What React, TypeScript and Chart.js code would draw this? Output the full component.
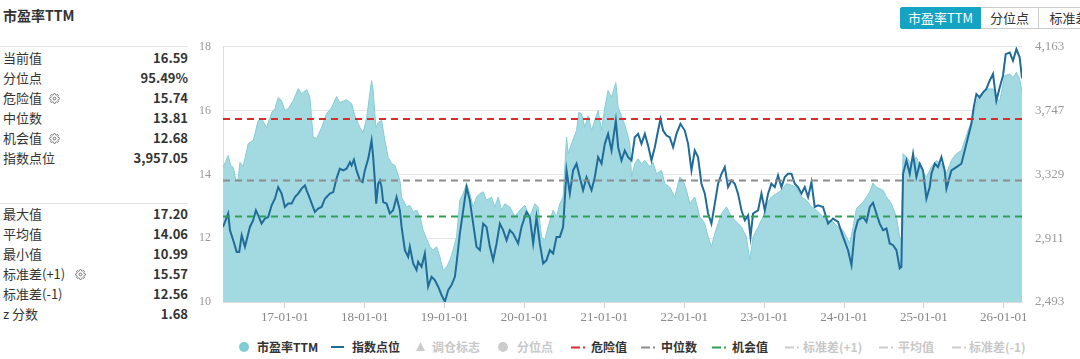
import React, { useEffect, useRef } from "react";
import { Chart, registerables } from "chart.js";

Chart.register(...registerables);

// ---------- data ----------
const peYears = [
  2016.225, 2016.29, 2016.32, 2016.353, 2016.387, 2016.416, 2016.437, 2016.478, 2016.541, 2016.603,
  2016.666, 2016.708, 2016.771, 2016.834, 2016.875, 2016.916, 2016.959, 2017.0, 2017.041, 2017.104,
  2017.166, 2017.209, 2017.272, 2017.313, 2017.354, 2017.397, 2017.459, 2017.522, 2017.584, 2017.647,
  2017.688, 2017.772, 2017.835, 2017.876, 2017.939, 2017.98, 2018.023, 2018.085, 2018.105, 2018.139,
  2018.168, 2018.21, 2018.252, 2018.293, 2018.335, 2018.377, 2018.398, 2018.439, 2018.461, 2018.523,
  2018.564, 2018.606, 2018.648, 2018.69, 2018.731, 2018.773, 2018.815, 2018.856, 2018.899, 2018.94,
  2018.981, 2019.024, 2019.065, 2019.106, 2019.149, 2019.19, 2019.232, 2019.274, 2019.315, 2019.357,
  2019.399, 2019.441, 2019.482, 2019.524, 2019.587, 2019.628, 2019.67, 2019.712, 2019.753, 2019.816,
  2019.879, 2019.941, 2020.004, 2020.066, 2020.129, 2020.17, 2020.213, 2020.254, 2020.317, 2020.358,
  2020.401, 2020.442, 2020.483, 2020.526, 2020.546, 2020.588, 2020.651, 2020.68, 2020.713, 2020.755,
  2020.796, 2020.839, 2020.88, 2020.921, 2020.964, 2021.005, 2021.046, 2021.089, 2021.143, 2021.172,
  2021.214, 2021.277, 2021.318, 2021.339, 2021.38, 2021.422, 2021.464, 2021.506, 2021.568, 2021.609,
  2021.652, 2021.715, 2021.756, 2021.818, 2021.881, 2021.944, 2021.985, 2022.028, 2022.069, 2022.131,
  2022.194, 2022.257, 2022.298, 2022.34, 2022.382, 2022.423, 2022.466, 2022.528, 2022.591, 2022.653,
  2022.716, 2022.778, 2022.82, 2022.861, 2022.924, 2022.986, 2023.029, 2023.091, 2023.154, 2023.216,
  2023.279, 2023.342, 2023.404, 2023.467, 2023.529, 2023.592, 2023.655, 2023.737, 2023.8, 2023.862,
  2023.925, 2023.988, 2024.03, 2024.071, 2024.113, 2024.155, 2024.238, 2024.322, 2024.363, 2024.405,
  2024.488, 2024.531, 2024.593, 2024.656, 2024.697, 2024.718, 2024.739, 2024.781, 2024.844, 2024.906,
  2024.969, 2025.031, 2025.094, 2025.156, 2025.219, 2025.282, 2025.344, 2025.407, 2025.469, 2025.511,
  2025.552, 2025.594, 2025.636, 2025.677, 2025.74, 2025.802, 2025.865, 2025.907, 2025.949, 2026.011,
  2026.074, 2026.115, 2026.158, 2026.199, 2026.228,
];

const peValues = [
  14.22, 14.59, 14.28, 14.22, 13.81, 13.88, 14.38, 14.25, 14.97, 15.06,
  15.69, 15.75, 15.47, 15.94, 16.06, 16.41, 16.31, 16.0, 16.06, 16.31,
  16.69, 16.53, 16.66, 16.41, 15.16, 15.13, 15.47, 15.91, 16.09, 16.44,
  16.25, 16.34, 16.22, 15.84, 15.47, 15.31, 15.78, 16.94, 16.63, 15.47,
  15.63, 15.69, 15.06, 14.53, 14.34, 14.28, 14.13, 13.81, 13.29, 12.98,
  13.03, 12.82, 12.88, 12.67, 12.25, 11.99, 11.73, 11.63, 11.73, 11.42,
  10.99, 11.1, 11.31, 11.63, 12.04, 13.19, 13.4, 13.71, 13.4, 12.98,
  13.29, 13.4, 13.45, 13.19, 13.29, 12.98, 13.29, 12.88, 13.08, 12.98,
  12.67, 12.88, 13.03, 12.67, 13.08, 12.98, 12.04, 11.94, 12.56, 12.88,
  12.67, 13.08, 13.29, 15.17, 14.65, 14.96, 15.38, 15.95, 15.9, 15.48,
  15.84, 15.38, 15.69, 16.0, 15.38, 16.1, 16.63, 16.42, 16.88, 16.1,
  15.84, 15.38, 14.96, 13.92, 14.33, 14.49, 14.33, 14.44, 14.23, 14.38,
  14.02, 14.13, 13.71, 13.6, 13.29, 13.92, 13.81, 13.5, 13.08, 13.29,
  12.67, 12.46, 12.04, 11.73, 12.15, 12.46, 12.77, 12.98, 12.67, 12.51,
  12.35, 12.04, 11.31, 12.04, 12.35, 12.67, 13.08, 13.29, 13.4, 13.5,
  13.71, 13.66, 13.6, 13.29, 13.19, 12.98, 12.88, 12.67, 12.56, 12.51,
  12.35, 12.25, 12.04, 11.83, 12.35, 12.93, 13.13, 13.45, 13.73, 13.6,
  13.5, 13.29, 13.08, 12.67, 12.04, 11.94, 14.65, 14.54, 14.33, 14.54,
  14.13, 13.92, 14.23, 14.44, 14.33, 14.02, 14.44, 14.65, 14.75, 15.06,
  15.38, 15.63, 16.05, 16.42, 16.57, 16.68, 16.68, 16.37, 16.31, 17.09,
  17.15, 17.04, 17.2, 16.99, 16.59,
];

const idxYears = [
  2016.225, 2016.29, 2016.312, 2016.353, 2016.396, 2016.428, 2016.459, 2016.5, 2016.562, 2016.603,
  2016.637, 2016.666, 2016.708, 2016.75, 2016.791, 2016.834, 2016.875, 2016.916, 2016.959, 2017.0,
  2017.041, 2017.084, 2017.125, 2017.166, 2017.209, 2017.25, 2017.272, 2017.313, 2017.375, 2017.417,
  2017.459, 2017.501, 2017.563, 2017.605, 2017.647, 2017.688, 2017.73, 2017.772, 2017.814, 2017.835,
  2017.864, 2017.897, 2017.939, 2017.972, 2018.001, 2018.043, 2018.085, 2018.105, 2018.126, 2018.143,
  2018.168, 2018.189, 2018.21, 2018.23, 2018.273, 2018.314, 2018.355, 2018.398, 2018.439, 2018.461,
  2018.502, 2018.543, 2018.564, 2018.606, 2018.648, 2018.668, 2018.711, 2018.752, 2018.793, 2018.836,
  2018.877, 2018.919, 2018.961, 2019.003, 2019.044, 2019.086, 2019.128, 2019.149, 2019.19, 2019.232,
  2019.274, 2019.315, 2019.357, 2019.399, 2019.441, 2019.482, 2019.524, 2019.566, 2019.607, 2019.65,
  2019.691, 2019.732, 2019.775, 2019.816, 2019.857, 2019.92, 2019.962, 2020.025, 2020.066, 2020.108,
  2020.15, 2020.191, 2020.233, 2020.275, 2020.317, 2020.358, 2020.401, 2020.442, 2020.483, 2020.526,
  2020.567, 2020.608, 2020.651, 2020.692, 2020.733, 2020.776, 2020.839, 2020.88, 2020.921, 2020.964,
  2021.005, 2021.046, 2021.089, 2021.143, 2021.172, 2021.214, 2021.255, 2021.297, 2021.339, 2021.38,
  2021.422, 2021.464, 2021.506, 2021.547, 2021.589, 2021.631, 2021.672, 2021.702, 2021.735, 2021.777,
  2021.818, 2021.86, 2021.902, 2021.952, 2022.006, 2022.048, 2022.09, 2022.131, 2022.172, 2022.215,
  2022.257, 2022.298, 2022.34, 2022.382, 2022.423, 2022.466, 2022.507, 2022.548, 2022.591, 2022.632,
  2022.673, 2022.716, 2022.757, 2022.799, 2022.829, 2022.861, 2022.924, 2022.966, 2023.008, 2023.049,
  2023.091, 2023.133, 2023.174, 2023.216, 2023.258, 2023.299, 2023.342, 2023.383, 2023.424, 2023.467,
  2023.508, 2023.55, 2023.592, 2023.633, 2023.675, 2023.737, 2023.8, 2023.862, 2023.925, 2023.988,
  2024.05, 2024.093, 2024.134, 2024.175, 2024.238, 2024.281, 2024.322, 2024.363, 2024.405, 2024.447,
  2024.488, 2024.531, 2024.572, 2024.614, 2024.656, 2024.697, 2024.718, 2024.739, 2024.781, 2024.823,
  2024.864, 2024.906, 2024.948, 2024.989, 2025.031, 2025.073, 2025.094, 2025.136, 2025.177, 2025.219,
  2025.26, 2025.282, 2025.344, 2025.407, 2025.469, 2025.511, 2025.552, 2025.594, 2025.623, 2025.657,
  2025.698, 2025.74, 2025.782, 2025.823, 2025.865, 2025.907, 2025.949, 2025.99, 2026.024, 2026.074,
  2026.115, 2026.158, 2026.199, 2026.228,
];

const idxValues = [
  2984, 3072, 2963, 2897, 2821, 2821, 2930, 2854, 2984, 3028,
  3093, 3060, 3006, 3039, 3049, 3126, 3169, 3245, 3202, 3115,
  3137, 3137, 3180, 3202, 3235, 3256, 3224, 3169, 3082, 3104,
  3115, 3169, 3202, 3212, 3302, 3365, 3354, 3365, 3408, 3387,
  3424, 3354, 3289, 3278, 3354, 3430, 3550, 3441, 3289, 3137,
  3267, 3289, 3245, 3147, 3137, 3072, 3093, 3180, 3093, 2984,
  2832, 2789, 2854, 2745, 2702, 2756, 2723, 2811, 2593, 2658,
  2637, 2593, 2539, 2495, 2571, 2604, 2658, 2745, 2941, 3093,
  3245, 3158, 3006, 2854, 2832, 3006, 2984, 2854, 2767, 2876,
  3006, 2963, 2897, 2963, 2941, 2876, 2984, 3082, 3049, 2876,
  3049, 2876, 2745, 2767, 2832, 2811, 2919, 2919, 2984, 3354,
  3202, 3354, 3398, 3310, 3224, 3310, 3224, 3310, 3441, 3398,
  3528, 3593, 3484, 3680, 3506, 3419, 3484, 3441, 3419, 3571,
  3593, 3528, 3593, 3517, 3419, 3506, 3615, 3691, 3615, 3582,
  3571, 3506, 3593, 3659, 3615, 3528, 3354, 3484, 3441, 3267,
  3202, 3072, 3006, 3137, 3267, 3332, 3376, 3245, 3289, 3267,
  3202, 3093, 3028, 3060, 2919, 3072, 3093, 3202, 3093, 3202,
  3267, 3245, 3321, 3245, 3310, 3332, 3332, 3267, 3245, 3202,
  3245, 3180, 3278, 3115, 3126, 3115, 3006, 3039, 3017, 2919,
  2832, 2734, 2952, 3028, 3049, 3017, 3115, 3142, 3072, 3006,
  2963, 2974, 2876, 2865, 2832, 2713, 2723, 3332, 3419, 3332,
  3463, 3310, 3398, 3354, 3169, 3245, 3332, 3398, 3376, 3441,
  3354, 3235, 3354, 3376, 3398, 3484, 3571, 3659, 3767, 3854,
  3832, 3865, 3887, 3941, 3985, 3811, 3897, 3974, 4115, 4126,
  4072, 4148, 4093, 3957.05,
];

const dangerValue = 15.74;
const medianValue = 13.81;
const opportunityValue = 12.68;

const xTickYears = [2017, 2018, 2019, 2020, 2021, 2022, 2023, 2024, 2025, 2026];
const leftMin = 10;
const leftMax = 18;
const leftStep = 2;
const rightTickLabels = [2493, 2911, 3329, 3747, 4163];

const statsTop: [string, string, boolean][] = [
  ["当前值", "16.59", false],
  ["分位点", "95.49%", false],
  ["危险值", "15.74", true],
  ["中位数", "13.81", false],
  ["机会值", "12.68", true],
  ["指数点位", "3,957.05", false],
];
const statsBottom: [string, string, boolean][] = [
  ["最大值", "17.20", false],
  ["平均值", "14.06", false],
  ["最小值", "10.99", false],
  ["标准差(+1)", "15.57", true],
  ["标准差(-1)", "12.56", false],
  ["z 分数", "1.68", false],
];

// ---------- styles ----------
const CJK = "'Noto Sans CJK SC', 'Noto Sans', sans-serif";
const AXIS_FONT = "'Liberation Serif', 'DejaVu Serif', serif";
const C_AREA_FILL = "#a3d9e1";
const C_AREA_LINE = "#86ccd7";
const C_INDEX = "#1f6c9a";
const C_DANGER = "#d42f2a";
const C_MEDIAN = "#8c8c8c";
const C_OPP = "#2e9e58";

const Gear = ({ left }: { left: number }) => (
  <svg
    width={11}
    height={11}
    viewBox="0 0 24 24"
    style={{ position: "absolute", left, top: 5 }}
    fill="none"
    stroke="#666"
    strokeWidth={2}
  >
    <circle cx="12" cy="12" r="3" />
    <path d="M19.4 15a1.65 1.65 0 0 0 .33 1.82l.06.06a2 2 0 0 1 0 2.83 2 2 0 0 1-2.83 0l-.06-.06a1.65 1.65 0 0 0-1.820-.33 1.65 1.65 0 0 0-1 1.51V21a2 2 0 0 1-2 2 2 2 0 0 1-2-2v-.09A1.65 1.65 0 0 0 9 19.4a1.65 1.65 0 0 0-1.82.33l-.06.06a2 2 0 0 1-2.83 0 2 2 0 0 1 0-2.83l.06-.06a1.65 1.65 0 0 0 .33-1.82 1.65 1.65 0 0 0-1.51-1H3a2 2 0 0 1-2-2 2 2 0 0 1 2-2h.09A1.65 1.65 0 0 0 4.6 9a1.65 1.65 0 0 0-.33-1.82l-.06-.06a2 2 0 0 1 0-2.83 2 2 0 0 1 2.83 0l.06.06a1.65 1.65 0 0 0 1.82.33H9a1.65 1.65 0 0 0 1-1.51V3a2 2 0 0 1 2-2 2 2 0 0 1 2 2v.09a1.65 1.65 0 0 0 1 1.51 1.65 1.65 0 0 0 1.82-.33l.06-.06a2 2 0 0 1 2.83 0 2 2 0 0 1 0 2.83l-.06.06a1.65 1.65 0 0 0-.33 1.82V9a1.65 1.65 0 0 0 1.51 1H21a2 2 0 0 1 2 2 2 2 0 0 1-2 2h-.09a1.65 1.65 0 0 0-1.51 1z" />
  </svg>
);

const StatRows = ({ rows, top }: { rows: [string, string, boolean][]; top: number }) => (
  <>
    {rows.map(([label, value, gear], i) => (
      <div
        key={label}
        style={{
          position: "absolute",
          left: 3,
          top: top + i * 20,
          width: 185,
          height: 20,
          lineHeight: "20px",
          fontSize: 13,
          color: "#333",
        }}
      >
        <span>{label}</span>
        {gear && <Gear left={label.length > 4 ? 72 : 46} />}
        <span style={{ position: "absolute", right: 0, fontWeight: 700 }}>{value}</span>
      </div>
    ))}
  </>
);

const DashDot = ({ color }: { color: string }) => (
  <svg width={16} height={4} style={{ position: "absolute", left: 0, top: 7 }}>
    <rect x={0} y={0.5} width={9} height={2} fill={color} />
    <rect x={12} y={0.5} width={2} height={2} fill={color} />
  </svg>
);

type LegendItem = { x: number; tx: number; text: string; kind: string; color: string; active: boolean };
const legendItems: LegendItem[] = [
  { x: 239, tx: 257, text: "市盈率TTM", kind: "circle", color: "#7fcbd6", active: true },
  { x: 331, tx: 352, text: "指数点位", kind: "line", color: C_INDEX, active: true },
  { x: 416, tx: 432, text: "调仓标志", kind: "triangle", color: "#ccc", active: false },
  { x: 498, tx: 517, text: "分位点", kind: "circle", color: "#ccc", active: false },
  { x: 571, tx: 591, text: "危险值", kind: "dashdot", color: C_DANGER, active: true },
  { x: 641, tx: 661, text: "中位数", kind: "dashdot", color: C_MEDIAN, active: true },
  { x: 712, tx: 732, text: "机会值", kind: "dashdot", color: C_OPP, active: true },
  { x: 785, tx: 803, text: "标准差(+1)", kind: "dashdot", color: "#ccc", active: false },
  { x: 879, tx: 898, text: "平均值", kind: "dashdot", color: "#ccc", active: false },
  { x: 952, tx: 969, text: "标准差(-1)", kind: "dashdot", color: "#ccc", active: false },
];

const LegendIcon = ({ kind, color }: { kind: string; color: string }) => {
  if (kind === "circle")
    return (
      <span
        style={{ position: "absolute", left: 0, top: 3, width: 10, height: 10, borderRadius: 5, background: color }}
      />
    );
  if (kind === "line")
    return <span style={{ position: "absolute", left: 0, top: 7, width: 13, height: 2, background: color }} />;
  if (kind === "triangle")
    return (
      <svg width={9} height={9} style={{ position: "absolute", left: 0, top: 3 }}>
        <polygon points="4.5,0 9,9 0,9" fill={color} />
      </svg>
    );
  return <DashDot color={color} />;
};

function App() {
  const canvasRef = useRef<HTMLCanvasElement | null>(null);

  useEffect(() => {
    if (!canvasRef.current) return;
    const xMin = Math.min(peYears[0], idxYears[0]);
    const xMax = Math.max(peYears[peYears.length - 1], idxYears[idxYears.length - 1]);
    const refLine = (v: number) => [
      { x: xMin, y: v },
      { x: xMax, y: v },
    ];
    const peData = peYears.map((x, i) => ({ x, y: peValues[i] }));
    const idxData = idxYears.map((x, i) => ({ x, y: idxValues[i] }));
    const rMin = rightTickLabels[0];
    const rMax = rightTickLabels[rightTickLabels.length - 1];

    const dashed = (label: string, v: number, color: string) => ({
      label,
      data: refLine(v),
      borderColor: color,
      borderWidth: 2,
      borderDash: [7, 5],
      pointRadius: 0,
      fill: false,
      yAxisID: "y",
    });

    const chart = new Chart(canvasRef.current, {
      type: "line",
      data: {
        datasets: [
          dashed("危险值", dangerValue, C_DANGER),
          dashed("中位数", medianValue, C_MEDIAN),
          dashed("机会值", opportunityValue, C_OPP),
          {
            label: "指数点位",
            data: idxData,
            borderColor: C_INDEX,
            borderWidth: 2,
            pointRadius: 0,
            fill: false,
            yAxisID: "y1",
          },
          {
            label: "市盈率TTM",
            data: peData,
            borderColor: C_AREA_LINE,
            backgroundColor: C_AREA_FILL,
            borderWidth: 1,
            pointRadius: 0,
            fill: "start",
            yAxisID: "y",
          },
        ] as any,
      },
      options: {
        animation: false,
        responsive: false,
        maintainAspectRatio: false,
        layout: { padding: { top: 12, left: 0, right: 0, bottom: 0 } },
        plugins: { legend: { display: false }, tooltip: { enabled: false } },
        scales: {
          x: {
            type: "linear",
            min: xMin,
            max: xMax,
            afterBuildTicks: (s: any) => {
              s.ticks = xTickYears.map((v) => ({ value: v }));
            },
            afterFit: (s: any) => {
              s.height = 28;
            },
            ticks: {
              autoSkip: false,
              maxRotation: 0,
              padding: 2,
              color: "#888",
              font: { family: AXIS_FONT, size: 13 },
              callback: (v: any) => `${String(v).slice(2)}-01-01`,
            },
            grid: { drawOnChartArea: false, tickLength: 6, color: "#d0d0d0" },
            border: { display: true, color: "#dddddd" },
          },
          y: {
            position: "left",
            min: leftMin,
            max: leftMax,
            afterFit: (s: any) => {
              s.width = 33;
            },
            ticks: {
              stepSize: leftStep,
              padding: 12,
              color: "#999",
              font: { family: AXIS_FONT, size: 12 },
            },
            grid: { color: "#e6e6e6", drawTicks: false },
            border: { display: true, color: "#dddddd" },
          },
          y1: {
            position: "right",
            min: rMin,
            max: rMax,
            afterBuildTicks: (s: any) => {
              const n = rightTickLabels.length - 1;
              s.ticks = rightTickLabels.map((_, i) => ({ value: rMin + (i * (rMax - rMin)) / n }));
            },
            afterFit: (s: any) => {
              s.width = 58;
            },
            ticks: {
              padding: 13,
              color: "#999",
              font: { family: AXIS_FONT, size: 13 },
              callback: (_v: any, i: number) => rightTickLabels[i].toLocaleString("en-US"),
            },
            grid: { display: false, drawTicks: false },
            border: { display: false },
          },
        },
      } as any,
    });
    return () => chart.destroy();
  }, []);

  return (
    <div
      style={{
        position: "absolute",
        left: 0,
        top: 0,
        width: 1080,
        height: 359,
        background: "#fff",
        fontFamily: CJK,
        overflow: "hidden",
      }}
    >
      <div style={{ position: "absolute", left: 3, top: 5, fontSize: 14, fontWeight: 700, color: "#333", lineHeight: "20px" }}>
        市盈率TTM
      </div>

      <div style={{ position: "absolute", left: 0, top: 46, width: 188, height: 1, background: "#e2e2e2" }} />
      <StatRows rows={statsTop} top={48} />
      <div style={{ position: "absolute", left: 0, top: 203, width: 188, height: 1, background: "#e2e2e2" }} />
      <StatRows rows={statsBottom} top={204} />

      {/* top-right toggle buttons */}
      <div style={{ position: "absolute", left: 900, top: 7, height: 22, display: "flex", fontSize: 13, lineHeight: "20px" }}>
        <div style={{ width: 79, textAlign: "center", background: "#14a3c2", color: "#fff", border: "1px solid #14a3c2", borderRadius: "2px 0 0 2px" }}>
          市盈率TTM
        </div>
        <div style={{ width: 57, textAlign: "center", color: "#333", border: "1px solid #ccc", borderLeft: "none" }}>分位点</div>
        <div style={{ width: 60, textAlign: "center", color: "#333", border: "1px solid #ccc", borderLeft: "none", whiteSpace: "nowrap" }}>
          标准差
        </div>
      </div>

      <canvas
        ref={canvasRef}
        width={890}
        height={304}
        style={{ position: "absolute", left: 190, top: 26, width: 890, height: 304 }}
      />

      {/* legend */}
      {legendItems.map((it) => (
        <div key={it.text} style={{ position: "absolute", left: it.x, top: 339, height: 16 }}>
          <LegendIcon kind={it.kind} color={it.color} />
          <span
            style={{
              position: "absolute",
              left: it.tx - it.x,
              top: 0,
              fontSize: 12,
              lineHeight: "16px",
              fontWeight: 700,
              whiteSpace: "nowrap",
              color: it.active ? "#333" : "#c8c8c8",
            }}
          >
            {it.text}
          </span>
        </div>
      ))}
    </div>
  );
}

export default App;
